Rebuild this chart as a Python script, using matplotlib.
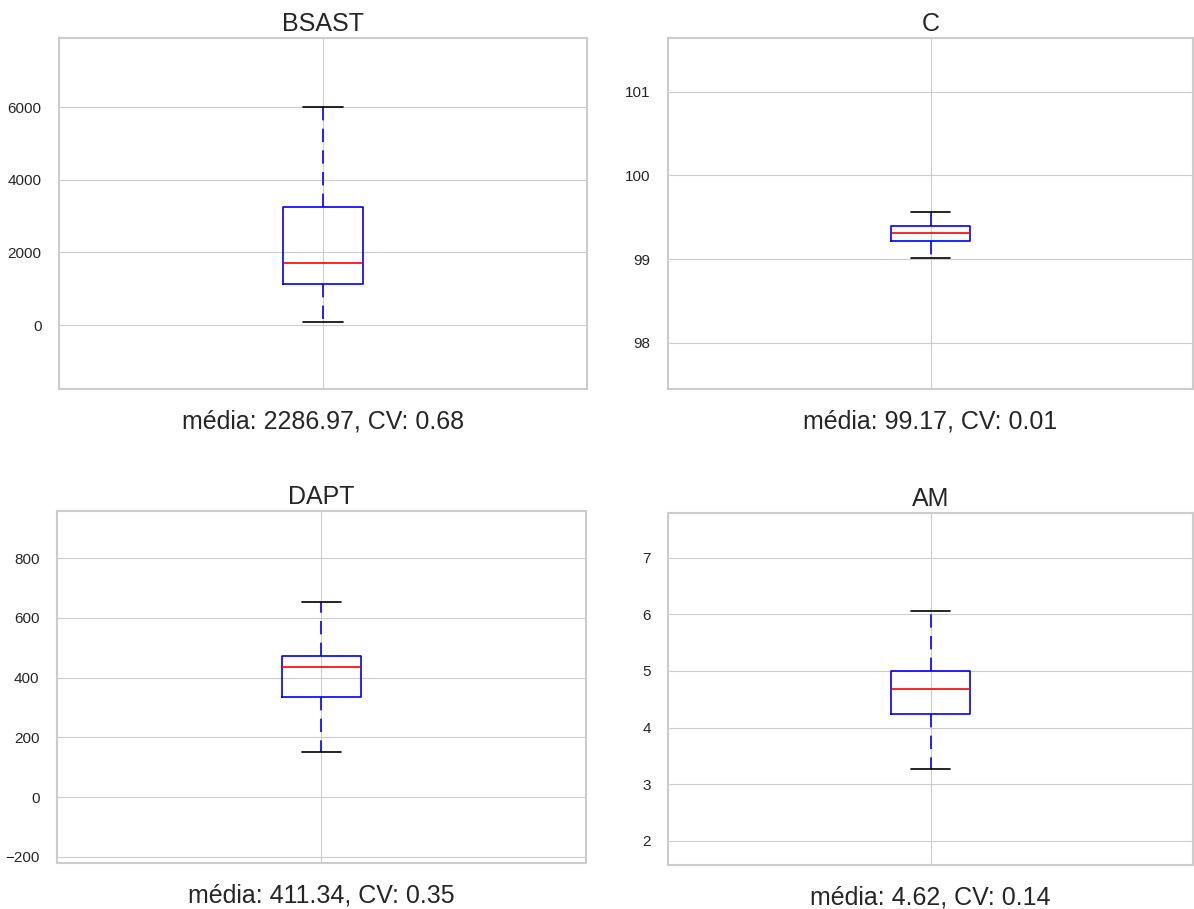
import matplotlib
matplotlib.use('Agg')
import matplotlib.pyplot as plt
from matplotlib.ticker import MultipleLocator
import seaborn as sns

# box statistics
names = ['BSAST', 'C', 'DAPT', 'AM']
whislo = [90, 99.01, 152, 3.27]
q1 = [1120, 99.22, 336, 4.24]
med = [1714, 99.31, 434, 4.675]
q3 = [3246, 99.40, 472, 5.00]
whishi = [5990, 99.557, 654, 6.065]
medias = [2286.97, 99.17, 411.34, 4.62]
cvs = [0.68, 0.01, 0.35, 0.14]
ylims = [(-1760, 7900), (97.45, 101.64), (-221, 958), (1.57, 7.79)]
ysteps = [2000, 1, 200, 1]

sns.set_style('whitegrid')
plt.rcParams['font.family'] = ['Liberation Sans', 'DejaVu Sans']
plt.rcParams['text.color'] = '.15'
plt.rcParams['ytick.color'] = '.15'

fig = plt.figure(figsize=(11.94, 9.09), dpi=100)
rects = [[0.0494, 0.5721, 0.4422, 0.3861],
         [0.5595, 0.5721, 0.4397, 0.3861],
         [0.0477, 0.0506, 0.4430, 0.3872],
         [0.5595, 0.0484, 0.4397, 0.3872]]

for i, name in enumerate(names):
    ax = fig.add_axes(rects[i])
    stats = [{'whislo': whislo[i], 'q1': q1[i], 'med': med[i],
              'q3': q3[i], 'whishi': whishi[i], 'fliers': []}]
    ax.bxp(stats, showfliers=False,
           boxprops=dict(color='blue', linewidth=1.2),
           whiskerprops=dict(color='blue', linewidth=1.2, linestyle=(0, (8, 5))),
           capprops=dict(color='black', linewidth=1.2),
           medianprops=dict(color='red', linewidth=1.2))
    ax.set_xlim(0.5, 1.5)
    ax.set_ylim(*ylims[i])
    ax.yaxis.set_major_locator(MultipleLocator(ysteps[i]))
    ax.set_xticks([1])
    ax.set_xticklabels([''])
    ax.tick_params(axis='y', labelsize=11, pad=9)
    ax.set_title(name, fontsize=18, pad=5)
    ax.set_xlabel(f'média: {medias[i]}, CV: {cvs[i]}', fontsize=18, labelpad=8)
    for s in ax.spines.values():
        s.set_color('.8')
        s.set_linewidth(1.5)

fig.savefig('out.png', dpi=100)
